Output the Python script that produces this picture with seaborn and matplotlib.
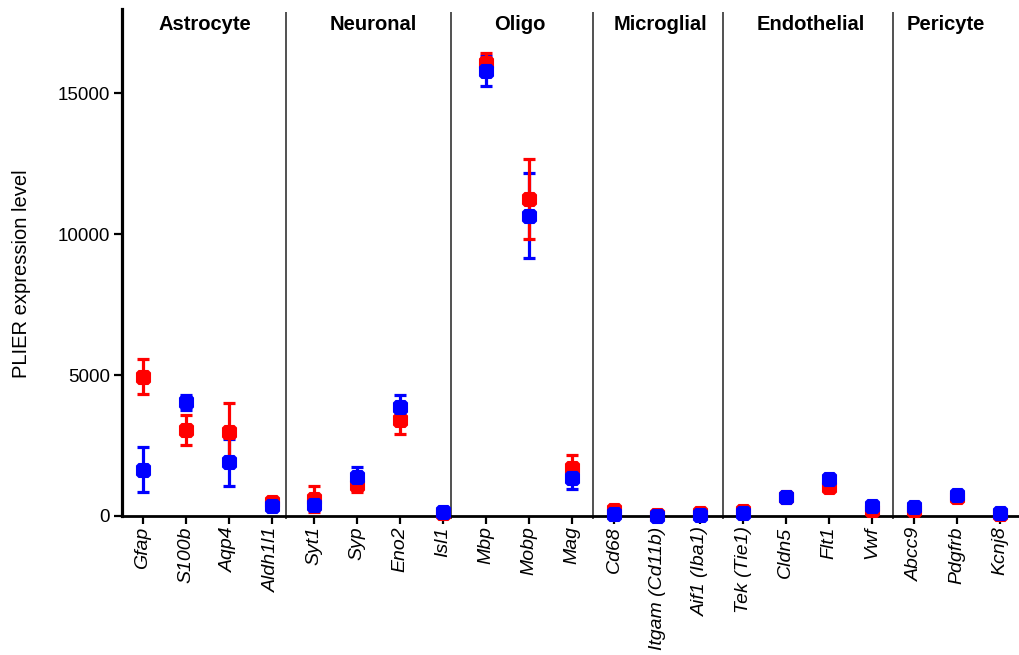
import numpy as np
import pandas as pd
import matplotlib
matplotlib.use("Agg")
import matplotlib.pyplot as plt
import seaborn as sns

# Marker genes, grouped by cell type
genes = ["Gfap", "S100b", "Aqp4", "Aldh1l1",
         "Syt1", "Syp", "Eno2", "Isl1",
         "Mbp", "Mobp", "Mag",
         "Cd68", "Itgam (Cd11b)", "Aif1 (Iba1)",
         "Tek (Tie1)", "Cldn5", "Flt1", "Vwf",
         "Abcc9", "Pdgfrb", "Kcnj8"]

cell_types = ["Astrocyte", "Neuronal", "Oligo", "Microglial", "Endothelial", "Pericyte"]

# PLIER expression level, mean and error, for the two groups
red_mean = [4950, 3060, 3000, 480,
            600, 1100, 3420, 100,
            16100, 11270, 1700,
            200, 50, 110,
            170, 680, 1020, 200,
            230, 680, 80]
red_err = [620, 530, 1000, 60,
           450, 250, 510, 40,
           330, 1420, 470,
           60, 30, 40,
           50, 80, 120, 60,
           60, 80, 40]

blue_mean = [1635, 4030, 1900, 370,
             390, 1400, 3880, 150,
             15800, 10660, 1340,
             60, 0, 30,
             120, 690, 1330, 350,
             330, 740, 120]
blue_err = [800, 280, 830, 80,
            100, 350, 400, 50,
            530, 1510, 390,
            50, 30, 40,
            50, 80, 100, 60,
            60, 70, 40]

# Group boundaries and label centres on the gene axis
separators = [3.33, 7.18, 10.51, 13.54, 17.5]
label_x = [1.45, 5.37, 8.80, 12.07, 15.57, 18.74]

df = pd.DataFrame({
    "gene": genes * 2,
    "pos": list(range(len(genes))) * 2,
    "mean": red_mean + blue_mean,
    "err": red_err + blue_err,
    "group": ["red"] * len(genes) + ["blue"] * len(genes),
})

sns.set_theme(style="ticks")
plt.rcParams["font.family"] = ["Liberation Sans", "DejaVu Sans"]

fig = plt.figure(figsize=(10.19, 6.55), dpi=100)
ax = fig.add_axes([122 / 1019, 139 / 655, 1 - 122 / 1019, 507 / 655])

# rounded-square marker
oct_marker = [(-1, -0.65), (-0.65, -1), (0.65, -1), (1, -0.65),
              (1, 0.65), (0.65, 1), (-0.65, 1), (-1, 0.65)]

colors = {"red": "#ff0000", "blue": "#0000ff"}
ebz = {"blue": 2, "red": 3}
for grp in ["blue", "red"]:
    d = df[df["group"] == grp]
    ax.errorbar(d["pos"], d["mean"], yerr=d["err"], fmt="none",
                ecolor=colors[grp], elinewidth=2.3, capsize=4.6,
                capthick=2.3, zorder=ebz[grp], clip_on=False)

for grp, z in [("red", 4), ("blue", 5)]:
    d = df[df["group"] == grp]
    sc = sns.scatterplot(data=d, x="pos", y="mean", ax=ax, color=colors[grp],
                         marker=oct_marker, s=118, linewidth=0, zorder=z,
                         legend=False)
for coll in ax.collections:
    coll.set_clip_on(False)

ax.set_xlim(-0.49, 20.44)
ax.set_ylim(0, 18000)

# group separators
ax.vlines(separators, -90, 17880, colors="#222222", linewidth=1.1,
          clip_on=False, zorder=1)

for name, x in zip(cell_types, label_x):
    ax.text(x, 17450, name, ha="center", va="center",
            fontsize=14.5, fontweight="bold", color="black")

ax.set_xticks(range(len(genes)))
ax.set_xticklabels(genes, rotation=90, fontstyle="italic", fontsize=14)
ax.set_yticks([0, 5000, 10000, 15000])
ax.set_yticklabels(["0", "5000", "10000", "15000"], fontsize=13.5)
ax.set_xlabel("")
ax.set_ylabel("")

sns.despine(ax=ax, top=True, right=True)
ax.spines["left"].set_linewidth(2.3)
ax.spines["bottom"].set_linewidth(2.0)
ax.spines["left"].set_color("black")
ax.spines["bottom"].set_color("black")
ax.tick_params(axis="y", length=5.5, width=1.6, pad=3, colors="black")
ax.tick_params(axis="x", length=5.5, width=1.6, pad=2, colors="black")

fig.text(22 / 1019, 1 - 274 / 655, "PLIER expression level", rotation=90,
         ha="center", va="center", fontsize=14.5, color="black")

fig.savefig("out.png", dpi=100, facecolor="white")
